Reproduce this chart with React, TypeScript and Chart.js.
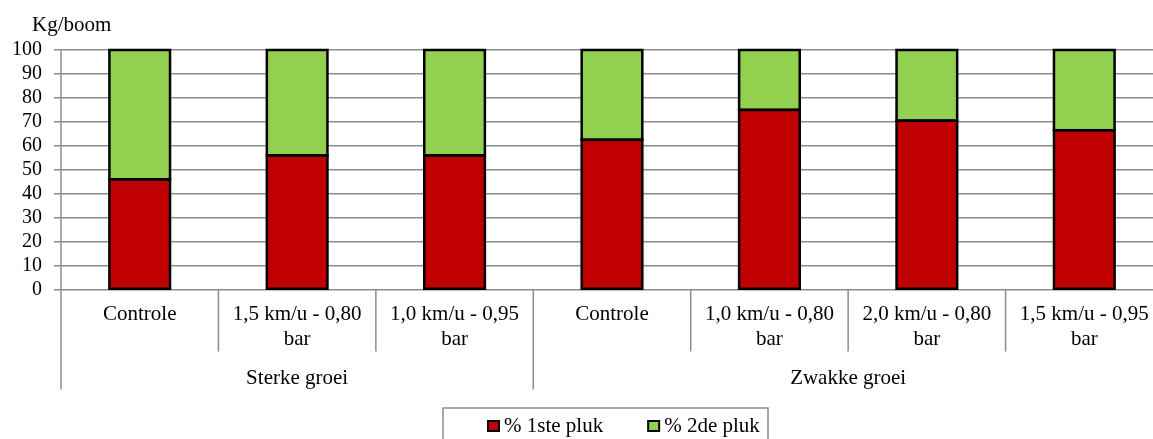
import React, { useEffect, useRef } from "react";
import { Chart, registerables } from "chart.js";

Chart.register(...registerables);

const categories: string[][] = [
  ["Controle"],
  ["1,5 km/u - 0,80", "bar"],
  ["1,0 km/u - 0,95", "bar"],
  ["Controle"],
  ["1,0 km/u - 0,80", "bar"],
  ["2,0 km/u - 0,80", "bar"],
  ["1,5 km/u - 0,95", "bar"],
];
const groupLabels = ["Sterke groei", "Zwakke groei"];
const groupSizes = [3, 4];
const series1Label = "% 1ste pluk";
const series2Label = "% 2de pluk";
const series1 = [46, 56, 56, 62.5, 75, 70.5, 66.5];
const series2 = [54, 44, 44, 37.5, 25, 29.5, 33.5];
const yTicks = [0, 10, 20, 30, 40, 50, 60, 70, 80, 90, 100];
const yTitle = "Kg/boom";

const RED = "#C00000";
const GREEN = "#92D050";
const GRID = "#8c8c8c";
const FONT = "'Liberation Serif', 'Times New Roman', serif";

const outlinePlugin = {
  id: "barOutline",
  afterDatasetsDraw(chart: any) {
    const ctx = chart.ctx;
    ctx.save();
    ctx.strokeStyle = "#000";
    ctx.lineWidth = 2.5;
    chart.data.datasets.forEach((_: any, di: number) => {
      const meta = chart.getDatasetMeta(di);
      meta.data.forEach((el: any) => {
        const p = el.getProps(["x", "y", "base", "width"], true);
        const left = p.x - p.width / 2;
        const top = Math.min(p.y, p.base);
        const h = Math.abs(p.base - p.y);
        ctx.strokeRect(left, top, p.width, h);
      });
    });
    ctx.restore();
  },
};

const axisPlugin = {
  id: "hierAxis",
  afterDraw(chart: any) {
    const ctx = chart.ctx;
    const area = chart.chartArea;
    const n = categories.length;
    const w = (area.right - area.left) / n;
    const base = area.bottom;
    ctx.save();
    ctx.strokeStyle = GRID;
    ctx.lineWidth = 1.5;
    ctx.beginPath();
    ctx.moveTo(area.left, area.top);
    ctx.lineTo(area.left, base + 100);
    ctx.stroke();
    const groupBounds = new Set<number>();
    let acc = 0;
    groupBounds.add(0);
    groupSizes.forEach((s) => {
      acc += s;
      groupBounds.add(acc);
    });
    for (let i = 1; i <= n; i++) {
      const x = area.left + i * w;
      const len = groupBounds.has(i) ? 100 : 62;
      ctx.beginPath();
      ctx.moveTo(x, base);
      ctx.lineTo(x, base + len);
      ctx.stroke();
    }
    ctx.fillStyle = "#000";
    ctx.font = `21px ${FONT}`;
    ctx.textAlign = "center";
    ctx.textBaseline = "middle";
    categories.forEach((lines, i) => {
      const cx = area.left + (i + 0.5) * w;
      lines.forEach((ln, j) => {
        ctx.fillText(ln, cx, base + 25 + j * 24.5);
      });
    });
    let start = 0;
    groupLabels.forEach((g, gi) => {
      const cx = area.left + (start + groupSizes[gi] / 2) * w;
      ctx.fillText(g, cx, base + 89);
      start += groupSizes[gi];
    });
    ctx.textAlign = "left";
    ctx.fillText(yTitle, 32, 25);
    const lx = 443;
    const ly = 408;
    ctx.strokeStyle = GRID;
    ctx.lineWidth = 1.5;
    ctx.strokeRect(lx, ly, 325, 40);
    const items = [
      { label: series1Label, color: RED },
      { label: series2Label, color: GREEN },
    ];
    let x = 488;
    const cy = 426;
    items.forEach((it) => {
      ctx.fillStyle = it.color;
      ctx.fillRect(x, cy - 5, 11, 10);
      ctx.strokeStyle = "#000";
      ctx.lineWidth = 2;
      ctx.strokeRect(x, cy - 5, 11, 10);
      ctx.fillStyle = "#000";
      ctx.fillText(it.label, x + 16, cy);
      x += 16 + ctx.measureText(it.label).width + 45;
    });
    ctx.restore();
  },
};

export default function App() {
  const ref = useRef<HTMLCanvasElement | null>(null);
  useEffect(() => {
    document.body.style.margin = "0";
    if (!ref.current) return;
    const chart = new Chart(ref.current, {
      type: "bar",
      data: {
        labels: categories.map((c) => c.join(" ")),
        datasets: [
          {
            label: series1Label,
            data: series1,
            backgroundColor: RED,
            borderWidth: 0,
          },
          {
            label: series2Label,
            data: series2,
            backgroundColor: GREEN,
            borderWidth: 0,
          },
        ],
      },
      options: {
        animation: false,
        responsive: true,
        maintainAspectRatio: false,
        layout: { padding: { top: 50, bottom: 149.5, left: 0, right: 48 } },
        datasets: { bar: { categoryPercentage: 1, barPercentage: 0.385 } },
        plugins: {
          legend: { display: false },
          tooltip: { enabled: false },
        },
        scales: {
          x: { stacked: true, display: false },
          y: {
            stacked: true,
            min: 0,
            max: 100,
            afterBuildTicks: (scale: any) => {
              scale.ticks = yTicks.map((v) => ({ value: v }));
            },
            afterFit: (scale: any) => {
              scale.width = 61;
            },
            border: { display: false },
            grid: { color: GRID, lineWidth: 1.5, tickLength: 7, drawTicks: true },
            ticks: {
              color: "#000",
              padding: 12,
              autoSkip: false,
              font: { family: FONT, size: 20 },
            },
          },
        },
      },
      plugins: [outlinePlugin, axisPlugin],
    });
    return () => chart.destroy();
  }, []);
  return (
    <div style={{ width: 1153, height: 439, overflow: "hidden", position: "relative" }}>
      <div style={{ width: 1211, height: 439, position: "absolute", left: 0, top: 0 }}>
        <canvas ref={ref} />
      </div>
    </div>
  );
}
